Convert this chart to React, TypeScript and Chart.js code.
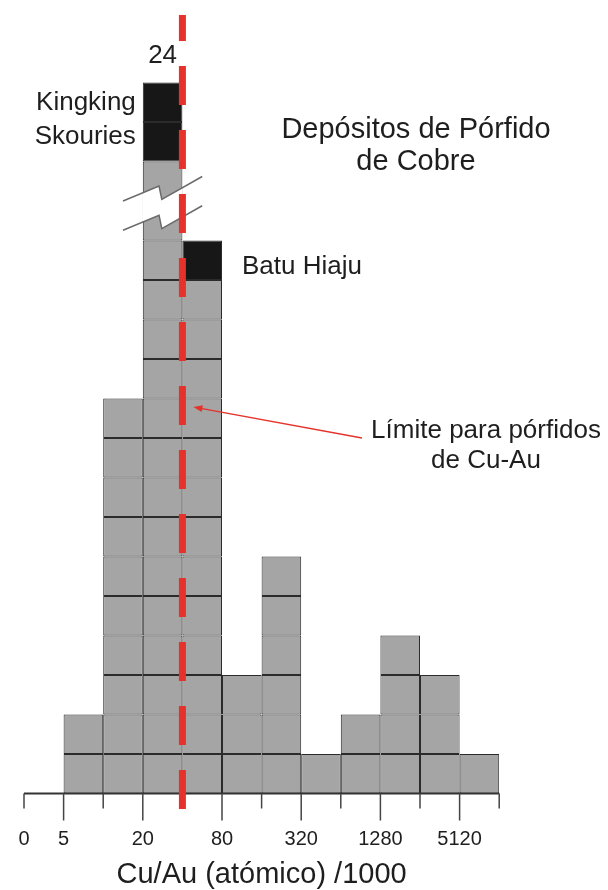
import React, { useEffect, useRef } from 'react';
import { Chart, registerables } from 'chart.js';

Chart.register(...registerables);

// ---- data ----
const edgeLabels = ['0', '5', '', '20', '', '80', '', '320', '', '1280', '', '5120', ''];
const majorEdges = [false, true, false, true, false, true, false, true, false, true, false, true, false];
const binCounts = [0, 2, 10, 24, 14, 3, 6, 1, 2, 4, 3, 1];
const namedDeposits = [0, 0, 0, 2, 1, 0, 0, 0, 0, 0, 0, 0];
const brokenBin = 3;
const unitsBelowBreak = 14;
const breakDrawnUnits = 2;
const limitEdge = 4;
const axisTitle = 'Cu/Au (atómico) /1000';
const brokenLabel = '24';
const namedTop = ['Kingking', 'Skouries'];
const namedSide = 'Batu Hiaju';
const titleLines = ['Depósitos de Pórfido', 'de Cobre'];
const limitLines = ['Límite para pórfidos', 'de Cu-Au'];

const GRAY = '#a5a5a5';
const BLACK = '#171717';
const RED = '#e5322a';
const FONT = '"Liberation Sans", Arial, sans-serif';
const TEXT = '#1e1e1e';

type Seg = { h: number; color: string };

function segmentsFor(c: number): Seg[] {
  const segs: Seg[] = [];
  const gray = binCounts[c] - namedDeposits[c];
  if (c === brokenBin) {
    for (let k = 0; k < unitsBelowBreak; k++) segs.push({ h: 1, color: GRAY });
    segs.push({ h: breakDrawnUnits, color: GRAY });
  } else {
    for (let k = 0; k < gray; k++) segs.push({ h: 1, color: GRAY });
  }
  for (let k = 0; k < namedDeposits[c]; k++) segs.push({ h: 1, color: BLACK });
  return segs;
}

const allSegs = binCounts.map((_, c) => segmentsFor(c));
const maxSegs = Math.max(...allSegs.map((s) => s.length));

const overlay = {
  id: 'overlay',
  afterDatasetsDraw(chart: any) {
    const { ctx } = chart;
    const meta = chart.getDatasetMeta(unitsBelowBreak);
    const bar: any = meta.data[brokenBin];
    if (!bar) return;
    const w = bar.width;
    const L = bar.x - w / 2;
    const top = bar.y;
    const h = bar.base - bar.y;
    const upper = [
      [L - 0.5 * w, top + 0.5 * h],
      [L + 0.41 * w, top + 0.31 * h],
      [L + 0.48 * w, top + 0.48 * h],
      [L + 1.5 * w, top + 0.19 * h],
    ];
    const off = 0.37 * h;
    const lower = upper.map(([px, py]) => [px, py + off]);
    ctx.save();
    ctx.beginPath();
    ctx.rect(L, top + 1, w, h - 2);
    ctx.clip();
    ctx.beginPath();
    upper.forEach(([px, py], i) => (i ? ctx.lineTo(px, py) : ctx.moveTo(px, py)));
    for (let i = lower.length - 1; i >= 0; i--) ctx.lineTo(lower[i][0], lower[i][1]);
    ctx.closePath();
    ctx.fillStyle = '#ffffff';
    ctx.fill();
    ctx.restore();
    ctx.save();
    ctx.strokeStyle = '#6a6a6a';
    ctx.lineWidth = 1.5;
    [upper, lower].forEach((pts) => {
      ctx.beginPath();
      pts.forEach(([px, py], i) => (i ? ctx.lineTo(px, py) : ctx.moveTo(px, py)));
      ctx.stroke();
    });
    ctx.restore();
  },
  afterDraw(chart: any) {
    const { ctx, chartArea } = chart;
    const xs = chart.scales.x;
    const ys = chart.scales.y;
    const bottom = chartArea.bottom;
    ctx.save();
    // axis line
    ctx.strokeStyle = '#333';
    ctx.lineWidth = 2;
    ctx.beginPath();
    ctx.moveTo(xs.getPixelForValue(0), bottom);
    ctx.lineTo(xs.getPixelForValue(edgeLabels.length - 1), bottom);
    ctx.stroke();
    // tick marks
    ctx.lineWidth = 1.5;
    ctx.strokeStyle = '#444';
    edgeLabels.forEach((_, i) => {
      const px = xs.getPixelForValue(i);
      ctx.beginPath();
      ctx.moveTo(px, bottom);
      ctx.lineTo(px, bottom + (majorEdges[i] ? 27 : 15));
      ctx.stroke();
    });
    // red dashed limit
    const lx = xs.getPixelForValue(limitEdge);
    ctx.strokeStyle = RED;
    ctx.lineWidth = 7;
    ctx.setLineDash([39, 25]);
    ctx.beginPath();
    ctx.moveTo(lx, bottom + 15.5);
    ctx.lineTo(lx, 15);
    ctx.stroke();
    ctx.setLineDash([]);
    // arrow
    const tipX = lx + 11;
    const tipY = 407;
    const tailX = 362;
    const tailY = 438;
    ctx.lineWidth = 1.4;
    ctx.beginPath();
    ctx.moveTo(tailX, tailY);
    ctx.lineTo(tipX + 6, tipY + 1.1);
    ctx.stroke();
    const ang = Math.atan2(tailY - tipY, tailX - tipX);
    ctx.fillStyle = RED;
    ctx.beginPath();
    ctx.moveTo(tipX, tipY);
    ctx.lineTo(tipX + 9 * Math.cos(ang) - 3.5 * Math.sin(ang), tipY + 9 * Math.sin(ang) + 3.5 * Math.cos(ang));
    ctx.lineTo(tipX + 9 * Math.cos(ang) + 3.5 * Math.sin(ang), tipY + 9 * Math.sin(ang) - 3.5 * Math.cos(ang));
    ctx.closePath();
    ctx.fill();

    // texts
    ctx.fillStyle = TEXT;
    ctx.textBaseline = 'alphabetic';
    const brokenTopVal = allSegs[brokenBin].reduce((a, s) => a + s.h, 0);
    const bx = xs.getPixelForValue(brokenBin + 0.5);
    const bTop = ys.getPixelForValue(brokenTopVal);
    ctx.font = `26px ${FONT}`;
    ctx.textAlign = 'center';
    ctx.fillText(brokenLabel, bx, bTop - 20);
    ctx.textAlign = 'right';
    const leftEdge = xs.getPixelForValue(brokenBin);
    ctx.fillText(namedTop[0], leftEdge - 7, bTop + 27.5);
    ctx.fillText(namedTop[1], leftEdge - 7, bTop + 61);
    const sideBin = brokenBin + 1;
    const sTopVal = allSegs[sideBin].reduce((a, s) => a + s.h, 0);
    ctx.textAlign = 'left';
    ctx.fillText(namedSide, xs.getPixelForValue(sideBin + 1) + 20, ys.getPixelForValue(sTopVal) + 33);
    ctx.textAlign = 'center';
    ctx.fillText(limitLines[0], 486, 438);
    ctx.fillText(limitLines[1], 486, 468);
    ctx.font = `29px ${FONT}`;
    ctx.fillText(titleLines[0], 416, 138);
    ctx.fillText(titleLines[1], 416, 170);
    ctx.restore();
  },
};

export default function App() {
  const ref = useRef<HTMLCanvasElement>(null);
  useEffect(() => {
    if (!ref.current) return;
    const datasets = Array.from({ length: maxSegs }, (_, j) => ({
      label: `s${j}`,
      data: binCounts.map((_, c) => ({ x: c + 0.5, y: allSegs[c][j] ? allSegs[c][j].h : null })),
      backgroundColor: binCounts.map((_, c) => (allSegs[c][j] ? allSegs[c][j].color : GRAY)),
      borderColor: '#2b2b2b',
      borderWidth: 1,
      borderSkipped: false,
      inflateAmount: 0,
      barPercentage: 1,
      categoryPercentage: 1,
    }));
    const chart = new Chart(ref.current, {
      type: 'bar',
      data: { datasets: datasets as any },
      options: {
        animation: false,
        responsive: false,
        layout: { padding: { top: 3.5, left: 24, right: 108.8, bottom: 0 } },
        plugins: { legend: { display: false }, tooltip: { enabled: false } },
        scales: {
          x: {
            type: 'linear',
            min: 0,
            max: edgeLabels.length - 1,
            offset: false,
            stacked: true,
            grid: {
              display: true,
              offset: false,
              drawOnChartArea: false,
              drawTicks: true,
              tickLength: 29.4,
              tickColor: 'rgba(0,0,0,0)',
              color: 'rgba(0,0,0,0)',
            },
            border: { display: false },
            ticks: {
              stepSize: 1,
              autoSkip: false,
              maxRotation: 0,
              padding: 4,
              color: TEXT,
              font: { family: FONT, size: 20, lineHeight: 1.26 },
              callback: (v: any) => edgeLabels[Math.round(Number(v))] ?? '',
            },
            title: {
              display: true,
              text: axisTitle,
              color: TEXT,
              font: { family: FONT, size: 29, lineHeight: 1 },
              padding: { top: 3.9, bottom: 1 },
            },
          },
          y: {
            display: false,
            stacked: true,
            min: 0,
            max: 20,
          },
        },
      },
      plugins: [overlay],
    });
    return () => chart.destroy();
  }, []);
  return (
    <div style={{ position: 'absolute', left: 0, top: 0, width: 608, height: 890, background: '#fff' }}>
      <canvas ref={ref} width={608} height={890} style={{ display: 'block' }} />
    </div>
  );
}
